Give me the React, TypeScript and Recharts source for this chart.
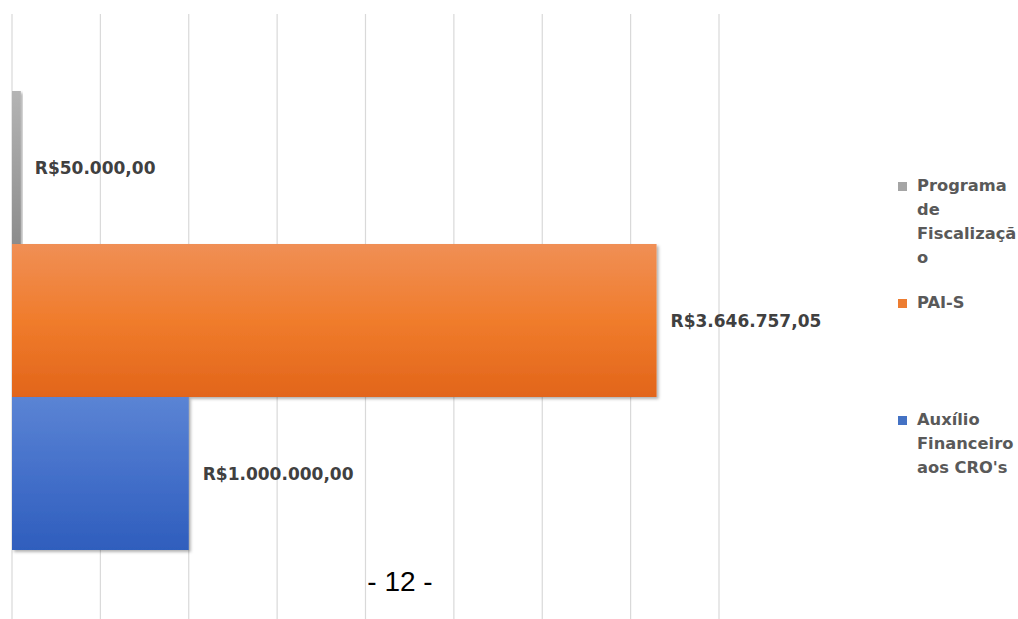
import React from 'react';
import { BarChart, Bar, XAxis, YAxis, CartesianGrid, LabelList } from 'recharts';

// series, top to bottom
const seriesKeys = ['fiscalizacao', 'pais', 'auxilio'];
const seriesNames = ['Programa de Fiscalização', 'PAI-S', "Auxílio Financeiro aos CRO's"];
const seriesValues = [50000, 3646757.05, 1000000];
const legendLines = [['Programa', 'de', 'Fiscalizaçã', 'o'], ['PAI-S'], ['Auxílio', 'Financeiro', "aos CRO's"]];
const xTicks = [0, 500000, 1000000, 1500000, 2000000, 2500000, 3000000, 3500000, 4000000];

const gradients = [
  { id: 'gGray', top: '#b4b4b4', mid: '#a0a0a0', bottom: '#8c8c8c', swatch: '#a5a5a5' },
  { id: 'gOrange', top: '#f08f55', mid: '#f07c2c', bottom: '#e2651a', swatch: '#ed7d31' },
  { id: 'gBlue', top: '#5b84d4', mid: '#4470ca', bottom: '#2f5ebd', swatch: '#4472c4' },
];
const legendTops = [174, 291, 408];

const row: Record<string, number | string> = { name: 'Orçamento' };
seriesKeys.forEach((k, i) => { row[k] = seriesValues[i]; });
const chartData = [row];

const FONT = '"DejaVu Sans", Verdana, sans-serif';

// pt-BR currency, e.g. R$3.646.757,05
const formatBRL = (v: number) => {
  const [intPart, dec] = v.toFixed(2).split('.');
  const withDots = intPart.replace(/\B(?=(\d{3})+(?!\d))/g, '.');
  return `R$${withDots},${dec}`;
};

// ticks are only needed for the grid, the reference shows no axis labels
const NoTick = () => <g />;

const App: React.FC = () => {
  return (
    <div style={{ position: 'absolute', left: 0, top: 0, width: 1018, height: 619, overflow: 'hidden', background: '#fff' }}>
      <BarChart
        width={1018}
        height={640}
        data={chartData}
        layout="vertical"
        margin={{ top: 14, right: 299, left: 12, bottom: 13 }}
        barSize={153}
        barGap={0}
      >
        <defs>
          {gradients.map(g => (
            <linearGradient key={g.id} id={g.id} x1="0" y1="0" x2="0" y2="1">
              <stop offset="0%" stopColor={g.top} />
              <stop offset="50%" stopColor={g.mid} />
              <stop offset="100%" stopColor={g.bottom} />
            </linearGradient>
          ))}
          <filter id="barShadow" x="-10%" y="-10%" width="130%" height="130%">
            <feDropShadow dx="2" dy="2" stdDeviation="1.5" floodColor="#000" floodOpacity="0.3" />
          </filter>
        </defs>
        <CartesianGrid horizontal={false} stroke="#d9d9d9" strokeWidth={1.2} />
        <XAxis
          type="number"
          domain={[0, 4000000]}
          ticks={xTicks}
          interval={0}
          tick={NoTick}
          tickLine={false}
          axisLine={false}
          height={1}
        />
        <YAxis type="category" dataKey="name" hide width={0} />
        {seriesKeys.map((k, i) => (
          <Bar
            key={k}
            dataKey={k}
            name={seriesNames[i]}
            fill={`url(#${gradients[i].id})`}
            filter="url(#barShadow)"
            isAnimationActive={false}
          >
            <LabelList
              dataKey={k}
              position="right"
              offset={14}
              formatter={(v: any) => formatBRL(Number(v))}
              style={{ fontFamily: FONT, fontSize: 17, fontWeight: 'bold', fill: '#404040' }}
            />
          </Bar>
        ))}
      </BarChart>

      {seriesNames.map((n, i) => (
        <div
          key={n}
          title={n}
          style={{ position: 'absolute', left: 898, top: legendTops[i], fontFamily: FONT, fontSize: 16.3, fontWeight: 'bold', color: '#595959', lineHeight: '24px' }}
        >
          <span style={{ position: 'absolute', left: 0, top: 8, width: 9, height: 9, background: gradients[i].swatch }} />
          <div style={{ marginLeft: 19 }}>
            {legendLines[i].map(l => (
              <div key={l} style={{ whiteSpace: 'nowrap' }}>{l}</div>
            ))}
          </div>
        </div>
      ))}

      <div style={{ position: 'absolute', left: 0, width: 800, top: 566, textAlign: 'center', fontFamily: '"Liberation Sans", Arial, sans-serif', fontSize: 28, color: '#000' }}>
        - 12 -
      </div>
    </div>
  );
};

export default App;
